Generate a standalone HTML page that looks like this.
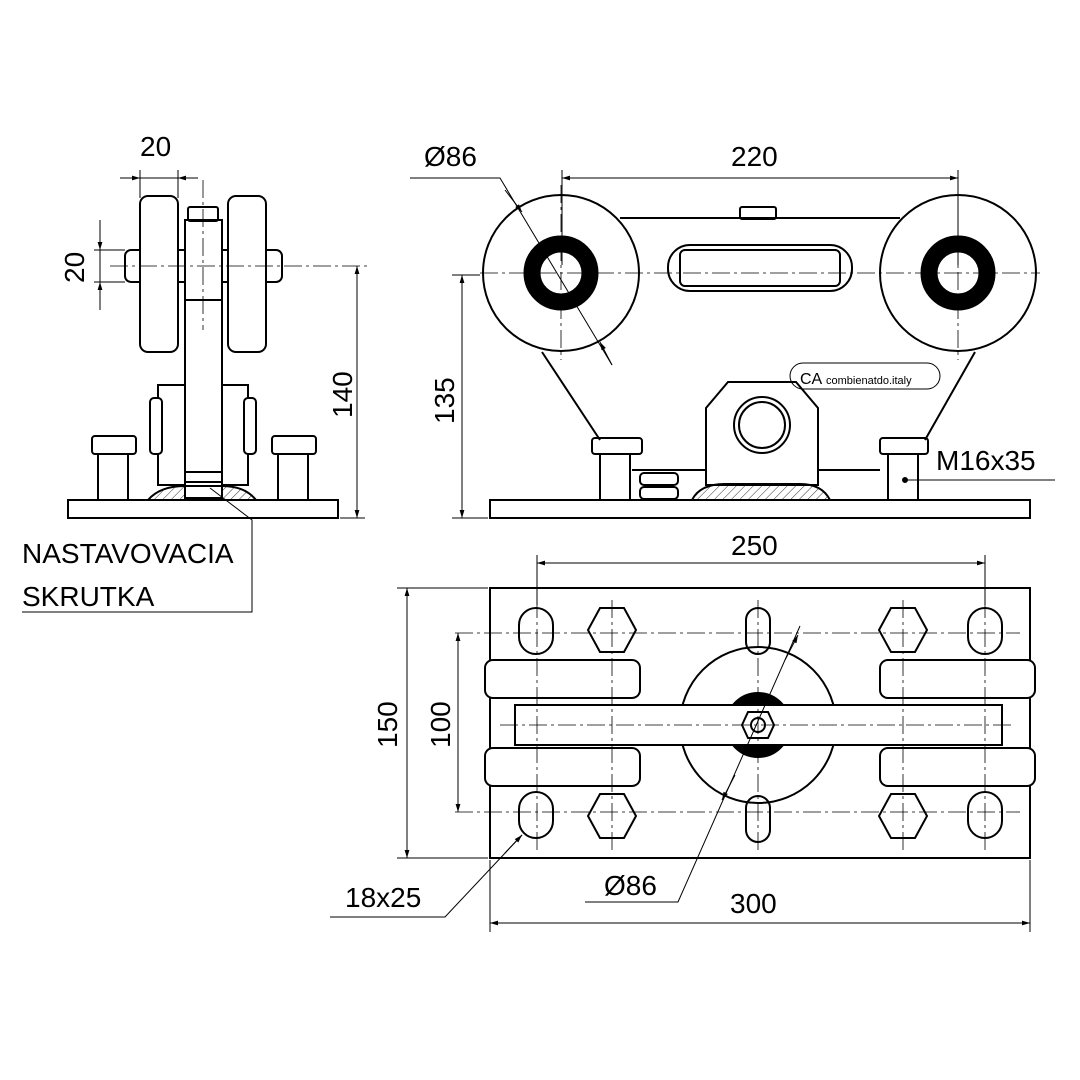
<!DOCTYPE html>
<html><head><meta charset="utf-8"><style>body{margin:0;background:#fff}svg{display:block}text{font-family:"Liberation Sans",sans-serif;fill:#000}</style></head><body>
<svg width="1080" height="1080" viewBox="0 0 1080 1080" xmlns="http://www.w3.org/2000/svg">
<defs>
<marker id="a" viewBox="0 0 10 10" refX="10" refY="5" markerWidth="12" markerHeight="8" orient="auto-start-reverse" markerUnits="userSpaceOnUse"><path d="M0,2 L10,5 L0,8z" fill="#000"/></marker>
<pattern id="h" width="6" height="6" patternUnits="userSpaceOnUse" patternTransform="rotate(45)"><line x1="0" y1="0" x2="0" y2="6" stroke="#000" stroke-width="0.8"/></pattern>
</defs>
<g fill="none" stroke="#000" stroke-width="2">
<!-- LEFT VIEW -->
<rect x="68" y="500" width="270" height="18" fill="#fff"/>
<rect x="125" y="250" width="157" height="32" rx="6"/>
<rect x="140" y="196" width="38" height="156" rx="8" fill="#fff"/>
<rect x="228" y="196" width="38" height="156" rx="8" fill="#fff"/>
<rect x="158" y="385" width="90" height="100" fill="#fff"/>
<rect x="150" y="398" width="12" height="56" rx="4" fill="#fff"/>
<rect x="244" y="398" width="12" height="56" rx="4" fill="#fff"/>
<rect x="185" y="220" width="37" height="280" fill="#fff"/>
<line x1="185" y1="300" x2="222" y2="300"/>
<rect x="188" y="207" width="30" height="14" rx="2"/>
<rect x="185" y="472" width="37" height="10"/><rect x="185" y="486" width="37" height="12"/>
<path d="M148 500 Q160 486 185 486 M222 486 Q245 486 256 500" />
<path d="M148 500 Q160 486 185 486 L185 500z M222 486 Q245 486 256 500 L222 500z" fill="url(#h)" stroke-width="1"/>
<rect x="92" y="436" width="44" height="18" rx="3"/><rect x="98" y="454" width="30" height="46"/>
<rect x="272" y="436" width="44" height="18" rx="3"/><rect x="278" y="454" width="30" height="46"/>
<!-- MIDDLE VIEW -->
<rect x="490" y="500" width="540" height="18" fill="#fff"/>
<path d="M620 218 L900 218 M542 352 L600 440 M975 352 L925 440"/>
<rect x="740" y="207" width="36" height="12" rx="2"/>
<rect x="668" y="245" width="184" height="46" rx="22"/>
<rect x="680" y="250" width="160" height="36" rx="5"/>
<line x1="632" y1="470" x2="706" y2="470"/><line x1="818" y1="470" x2="880" y2="470"/>
<path d="M706 485 L706 408 L728 382 L796 382 L818 408 L818 485z" fill="#fff"/>
<circle cx="762" cy="425" r="28"/><circle cx="762" cy="425" r="23"/>
<path d="M692 500 Q700 484 725 484 L800 484 Q822 484 830 500z" fill="url(#h)"/>
<rect x="790" y="363" width="150" height="26" rx="13" stroke-width="1"/>
<text x="800" y="384" font-size="16" stroke="none" fill="#000">CA</text>
<text x="826" y="384" font-size="11" stroke="none" fill="#000">combienatdo.italy</text>
<circle cx="561" cy="273" r="78" fill="#fff"/><circle cx="958" cy="273" r="78" fill="#fff"/>
<circle cx="561" cy="273" r="29" stroke-width="17" stroke="#000"/>
<circle cx="958" cy="273" r="29" stroke-width="17" stroke="#000"/>
<rect x="592" y="438" width="50" height="16" rx="3"/><rect x="600" y="454" width="30" height="46"/>
<rect x="880" y="438" width="48" height="16" rx="3"/><rect x="888" y="454" width="30" height="46"/>
<rect x="640" y="473" width="38" height="12" rx="4"/><rect x="640" y="487" width="38" height="12" rx="4"/>
<!-- BOTTOM VIEW -->
<rect x="490" y="588" width="540" height="270"/>
<rect x="485" y="660" width="155" height="38" rx="8" fill="#fff"/>
<rect x="880" y="660" width="155" height="38" rx="8" fill="#fff"/>
<rect x="485" y="748" width="155" height="38" rx="8" fill="#fff"/>
<rect x="880" y="748" width="155" height="38" rx="8" fill="#fff"/>
<circle cx="758" cy="725" r="78" fill="#fff"/>
<circle cx="758" cy="725" r="32" fill="#000"/>
<rect x="515" y="705" width="487" height="40" fill="#fff"/>
<polygon points="748,712 768,712 774,725 768,738 748,738 742,725" fill="#fff"/>
<circle cx="758" cy="725" r="7"/>
<rect x="519" y="608" width="34" height="46" rx="17"/><rect x="968" y="608" width="34" height="46" rx="17"/>
<rect x="519" y="792" width="34" height="46" rx="17"/><rect x="968" y="792" width="34" height="46" rx="17"/>
<rect x="746" y="608" width="24" height="46" rx="12"/><rect x="746" y="796" width="24" height="46" rx="12"/>
<polygon points="600,608 624,608 636,630 624,652 600,652 588,630"/>
<polygon points="891,608 915,608 927,630 915,652 891,652 879,630"/>
<polygon points="600,794 624,794 636,816 624,838 600,838 588,816"/>
<polygon points="891,794 915,794 927,816 915,838 891,838 879,816"/>
</g>
<!-- center lines -->
<g stroke="#000" stroke-width="0.8" stroke-dasharray="18,4,3,4" fill="none">
<line x1="110" y1="266" x2="370" y2="266"/><line x1="203" y1="180" x2="203" y2="330"/>
<line x1="480" y1="273" x2="1040" y2="273"/><line x1="561" y1="185" x2="561" y2="360"/><line x1="958" y1="185" x2="958" y2="360"/>
<line x1="500" y1="725" x2="1015" y2="725"/><line x1="758" y1="600" x2="758" y2="850"/>
<line x1="537" y1="600" x2="537" y2="850"/><line x1="985" y1="600" x2="985" y2="850"/>
<line x1="612" y1="600" x2="612" y2="850"/><line x1="903" y1="600" x2="903" y2="850"/>
<line x1="455" y1="633" x2="1020" y2="633"/><line x1="455" y1="812" x2="1020" y2="812"/>
</g>
<!-- dimensions -->
<g stroke="#000" stroke-width="1" fill="none">
<line x1="120" y1="178" x2="140" y2="178" marker-end="url(#a)"/><line x1="198" y1="178" x2="178" y2="178" marker-end="url(#a)"/><line x1="140" y1="178" x2="178" y2="178"/>
<line x1="140" y1="170" x2="140" y2="198"/><line x1="178" y1="170" x2="178" y2="198"/>
<line x1="100" y1="220" x2="100" y2="310"/><line x1="100" y1="232" x2="100" y2="250" marker-end="url(#a)"/><line x1="100" y1="300" x2="100" y2="282" marker-end="url(#a)"/>
<line x1="94" y1="250" x2="125" y2="250"/><line x1="94" y1="282" x2="125" y2="282"/>
<line x1="357" y1="266" x2="357" y2="518" marker-start="url(#a)" marker-end="url(#a)"/><line x1="340" y1="518" x2="365" y2="518"/>
<path d="M22 612 L252 612 L252 520 L210 488"/>
<line x1="562" y1="178" x2="958" y2="178" marker-start="url(#a)" marker-end="url(#a)"/>
<line x1="562" y1="170" x2="562" y2="265"/><line x1="958" y1="170" x2="958" y2="265"/>
<path d="M410 178 L500 178 L612 365"/><line x1="505" y1="190" x2="522" y2="212" marker-end="url(#a)"/><line x1="612" y1="365" x2="600" y2="342" marker-end="url(#a)"/>
<line x1="462" y1="275" x2="462" y2="518" marker-start="url(#a)" marker-end="url(#a)"/><line x1="452" y1="275" x2="480" y2="275"/><line x1="452" y1="518" x2="488" y2="518"/>
<path d="M1055 480 L905 480"/><circle cx="905" cy="480" r="2.5" fill="#000"/>
<line x1="537" y1="563" x2="985" y2="563" marker-start="url(#a)" marker-end="url(#a)"/><line x1="537" y1="555" x2="537" y2="605"/><line x1="985" y1="555" x2="985" y2="605"/>
<line x1="407" y1="588" x2="407" y2="858" marker-start="url(#a)" marker-end="url(#a)"/><line x1="397" y1="588" x2="488" y2="588"/><line x1="397" y1="858" x2="488" y2="858"/>
<line x1="458" y1="633" x2="458" y2="812" marker-start="url(#a)" marker-end="url(#a)"/>
<line x1="490" y1="923" x2="1030" y2="923" marker-start="url(#a)" marker-end="url(#a)"/><line x1="490" y1="860" x2="490" y2="932"/><line x1="1030" y1="860" x2="1030" y2="932"/>
<path d="M585 902 L678 902 L800 626"/><line x1="735" y1="775" x2="722" y2="800" marker-end="url(#a)"/><line x1="785" y1="660" x2="798" y2="635" marker-end="url(#a)"/>
<path d="M330 917 L445 917 L522 835" /><line x1="505" y1="853" x2="522" y2="835" marker-end="url(#a)"/>
</g>
<g font-size="28">
<text x="140" y="156">20</text>
<text transform="translate(84,283) rotate(-90)">20</text>
<text transform="translate(352,418) rotate(-90)">140</text>
<text x="22" y="563">NASTAVOVACIA</text>
<text x="22" y="606">SKRUTKA</text>
<text x="424" y="166">Ø86</text>
<text x="731" y="166">220</text>
<text transform="translate(454,424) rotate(-90)">135</text>
<text x="936" y="470">M16x35</text>
<text x="731" y="555">250</text>
<text transform="translate(397,748) rotate(-90)">150</text>
<text transform="translate(450,748) rotate(-90)">100</text>
<text x="730" y="913">300</text>
<text x="604" y="895">Ø86</text>
<text x="345" y="907">18x25</text>
</g>
</svg>
</body></html>
